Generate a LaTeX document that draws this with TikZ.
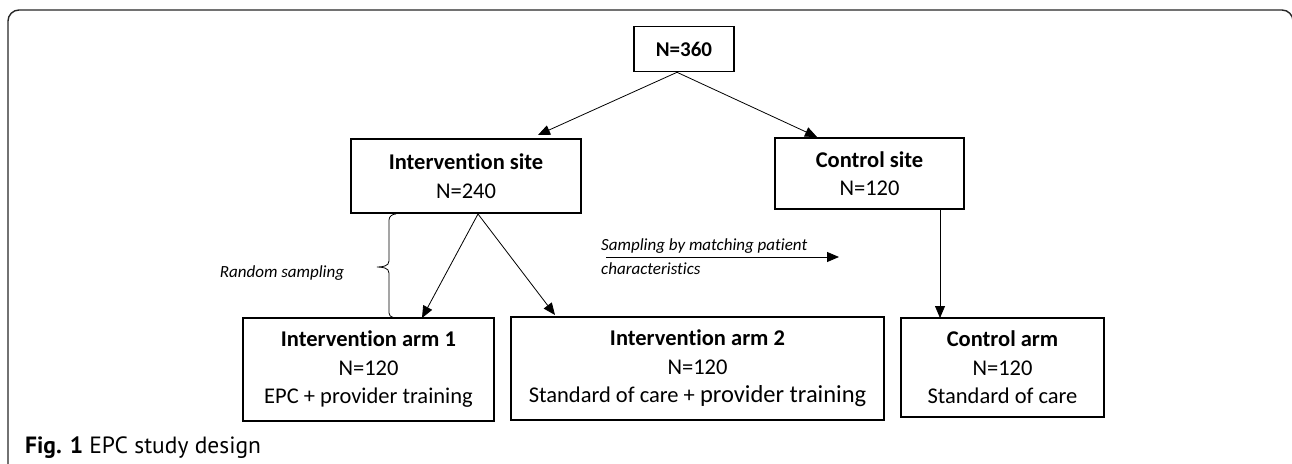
\documentclass[tikz,border=0pt]{standalone}
\usepackage{fontspec}
\setmainfont[Ligatures=NoCommon]{Carlito}
\newfontfamily\capfont{PT Sans}
\usetikzlibrary{arrows.meta}
\begin{document}
\begin{tikzpicture}[x=1pt,y=-1pt,
  box/.style={draw=black,line width=1.6pt,align=center,inner sep=0pt,
    font=\fontsize{22.5}{28.5}\selectfont},
  conn/.style={draw=black,line width=0.8pt},
  arr/.style={conn,-{Triangle[length=12pt,width=10pt]}},
  note/.style={font=\fontsize{17}{18}\selectfont\itshape,inner sep=0pt}]
\useasboundingbox (0,0) rectangle (1292,463);
\begin{scope}
\clip (0,0) rectangle (1292,463);
\draw[line width=1.4pt,rounded corners=11pt,color=black!85] (8,470) -- (8,10) -- (1293,10) -- (1293,470);
\end{scope}
% boxes
\node[box,minimum width=100pt,minimum height=45pt,font=\fontsize{21}{24}\selectfont] (top) at (684,49) {\bfseries N=360};
\node[box,minimum width=230pt,minimum height=74pt] (isite) at (466,176) {\bfseries Intervention site\\N=240};
\node[box,minimum width=189pt,minimum height=71pt] (csite) at (869.5,173.5) {\bfseries Control site\\N=120};
\node[box,minimum width=251pt,minimum height=103pt] (arm1) at (368.5,369.5) {\bfseries Intervention arm 1\\N=120\\EPC + provider training};
\node[box,minimum width=373pt,minimum height=103pt] (arm2) at (697.5,368.5) {\bfseries Intervention arm 2\\N=120\\Standard of care + {\fontsize{24.5}{28.5}\selectfont provider training}};
\node[box,minimum width=203pt,minimum height=99pt] (carm) at (1002.5,367.5) {\bfseries Control arm\\N=120\\Standard of care};
% arrow tips
\coordinate (t1) at (538,135);
\coordinate (t2) at (817,137);
\coordinate (t3) at (422,318);
\coordinate (t4) at (555,315);
\coordinate (s1) at (478,214);
\coordinate (c1) at (940,210);
\coordinate (c2) at (940,318);
\draw[arr] ([xshift=-7pt]top.south) -- (t1);
\draw[arr] ([xshift=-7pt]top.south) -- (t2);
\draw[arr] (s1) -- (t3);
\draw[arr] (s1) -- (t4);
\draw[arr] (c1) -- (c2);
% brace
\coordinate (b1) at (396,214);
\coordinate (b2) at (401,318);
\draw[conn] (b1) to[out=180,in=90] (389,220) -- (389,261) to[out=-90,in=0] (377,267)
  to[out=0,in=90] (389,273) -- (389,313) to[out=-90,in=180] (b2);
\node[note] (rs) at (282,273) {Random sampling};
% sampling by matching
\coordinate (m1) at (606,257);
\coordinate (m2) at (839,257);
\draw[arr] (m1) -- (m2);
\node[note,anchor=west] (sm1) at (601,246) {Sampling by matching patient};
\node[note,anchor=west] (sm2) at (601,269) {characteristics};
% caption
\node[anchor=west,inner sep=0pt,font=\capfont\fontsize{23.5}{25}\selectfont] (cap) at (25,448) {\textbf{Fig. 1} EPC study design};
\end{tikzpicture}
\end{document}
